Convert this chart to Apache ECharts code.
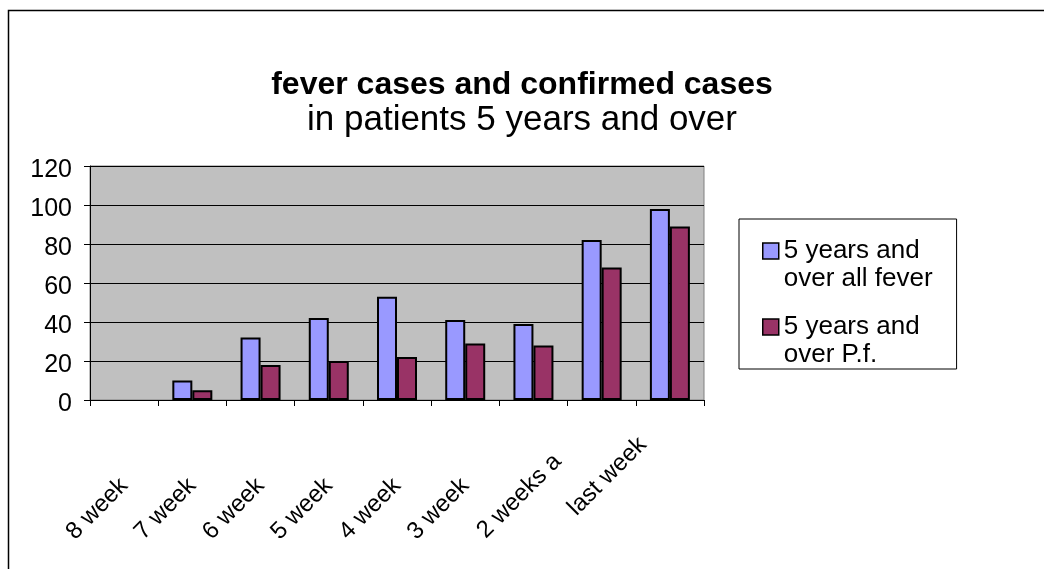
<!DOCTYPE html>
<html>
<head>
<meta charset="utf-8">
<script src="https://cdn.jsdelivr.net/npm/echarts@6/dist/echarts.min.js"></script>
<style>
  html, body { margin: 0; padding: 0; background: #fff; }
  #chart { width: 1044px; height: 569px; }
</style>
</head>
<body>
<div id="chart"></div>
<script>
// data
const weekLabels = ["8 week", "7 week", "6 week", "5 week", "4 week", "3 week", "2 weeks a", "last week", ""];
const allFever = [null, 10, 32, 42, 53, 41, 39, 82, 98];
const pfCases = [null, 5, 18, 20, 22, 29, 28, 68, 89];
const seriesNames = ["5 years and\nover all fever", "5 years and\nover P.f."];

const font = "Liberation Sans, Arial, Helvetica, sans-serif";

// square legend key sitting on the first line of a two-line label
const legendKey = "path://M0,0H16V16H0ZM0,44L0,44";

const chart = echarts.init(document.getElementById("chart"));

const option = {
  backgroundColor: "#ffffff",
  animation: false,
  textStyle: { fontFamily: font, color: "#000" },
  title: {
    left: "center",
    top: 69,
    padding: 0,
    itemGap: 2,
    text: "fever cases and confirmed cases",
    subtext: "in patients 5 years and over",
    textStyle: { fontFamily: font, fontSize: 32, fontWeight: "bold", color: "#000" },
    subtextStyle: { fontFamily: font, fontSize: 35, color: "#000" }
  },
  graphic: [
    {
      // outer chart frame (runs off right and bottom)
      type: "rect",
      left: 6,
      top: 8,
      shape: { width: 1100, height: 620 },
      style: { fill: null, stroke: "#000", lineWidth: 1.5 },
      silent: true
    }
  ],
  legend: {
    orient: "vertical",
    left: 739,
    top: 219,
    padding: [18, 24, 0, 23],
    itemGap: 20,
    itemWidth: 16,
    itemHeight: 44,
    icon: legendKey,
    backgroundColor: "#fff",
    borderColor: "#000",
    borderWidth: 1,
    itemStyle: { borderColor: "#000", borderWidth: 1.5 },
    textStyle: { fontFamily: font, fontSize: 26, lineHeight: 28, color: "#000" }
  },
  grid: {
    left: 90,
    right: 340,
    top: 166,
    bottom: 169,
    show: true,
    backgroundColor: "#c0c0c0",
    borderColor: "#808080",
    borderWidth: 1
  },
  xAxis: {
    type: "category",
    data: weekLabels,
    axisLine: { lineStyle: { color: "#000", width: 1 } },
    axisTick: { show: true, length: 6, lineStyle: { color: "#000" } },
    axisLabel: {
      interval: 0,
      rotate: 45,
      margin: 82,
      fontSize: 24,
      fontFamily: font,
      color: "#000",
      formatter: function (value, idx) {
        if (idx === 6) return "{mid|" + value + "}";
        if (idx === 7) return "{far|" + value + "}";
        return value;
      },
      rich: {
        mid: { fontSize: 24, fontFamily: font, color: "#000", padding: [0, -34, 0, 0] },
        far: { fontSize: 24, fontFamily: font, color: "#000", padding: [0, -58, 0, 0] }
      }
    },
    splitLine: { show: false }
  },
  yAxis: {
    type: "value",
    min: 0,
    max: 120,
    interval: 20,
    axisLine: { show: true, lineStyle: { color: "#000", width: 1 } },
    axisTick: { show: true, length: 6, lineStyle: { color: "#000" } },
    axisLabel: {
      margin: 18,
      fontSize: 25,
      fontFamily: font,
      color: "#000",
      verticalAlign: "top",
      padding: [-8, 0, 0, 0]
    },
    splitLine: { show: true, lineStyle: { color: "#000", width: 1 } }
  },
  series: [
    {
      name: seriesNames[0],
      type: "bar",
      data: allFever,
      barWidth: 20,
      barGap: "0%",
      itemStyle: { color: "#9999ff", borderColor: "#000", borderWidth: 2 }
    },
    {
      name: seriesNames[1],
      type: "bar",
      data: pfCases,
      barWidth: 20,
      barGap: "0%",
      itemStyle: { color: "#993366", borderColor: "#000", borderWidth: 2 }
    }
  ]
};

chart.setOption(option);
</script>
</body>
</html>
